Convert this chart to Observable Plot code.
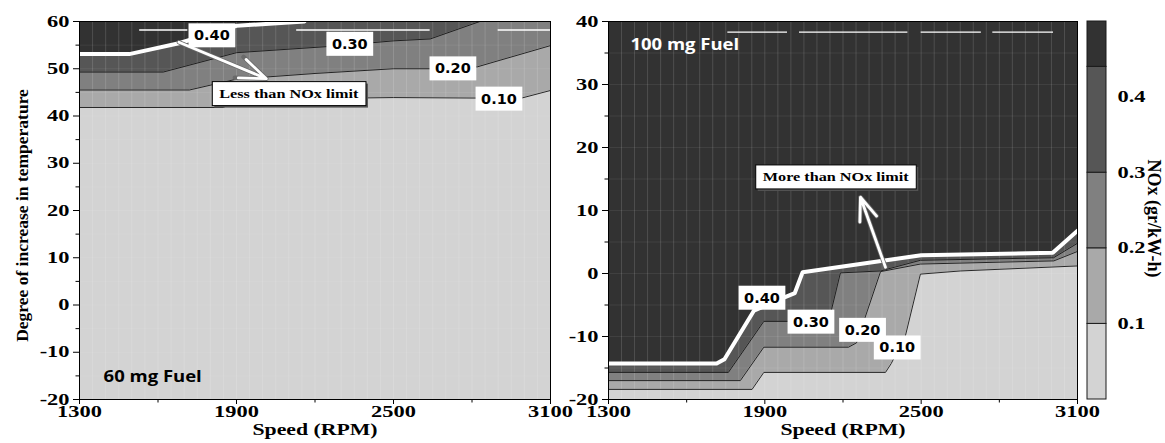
<!DOCTYPE html>
<html>
<head>
<meta charset="utf-8">
<script src="https://cdn.jsdelivr.net/npm/d3@7"></script>
<script src="https://cdn.jsdelivr.net/npm/@observablehq/plot@0.6"></script>
<style>
  body { margin: 0; background: #fff; }
  #chart { position: relative; width: 1165px; height: 443px; overflow: hidden; background: #fff; }
  #chart svg { position: absolute; top: 0; max-width: none; }
</style>
</head>
<body>
<div id="chart"></div>
<script>
// ---------- data ----------
const rpmDomain = [1300, 3100];
const xTicks = [1300, 1900, 2500, 3100];
const xMinorTicks = [1600, 2200, 2800];

const leftTempDomain = [-20, 60];
const leftYTicks = [-20, -10, 0, 10, 20, 30, 40, 50, 60];
const leftYMinor = [-15, -5, 5, 15, 25, 35, 45, 55];
const rightTempDomain = [-20, 40];
const rightYTicks = [-20, -10, 0, 10, 20, 30, 40];
const rightYMinor = [-15, -5, 5, 15, 25, 35];

// 60 mg fuel: NOx contour lines [rpm, temperature rise]
const left010 = [[1300, 41.8], [1850, 41.8], [1905, 43.5], [2500, 43.9], [2800, 43.8], [2990, 43.8], [3100, 45.4]];
const left020 = [[1300, 45.5], [1720, 45.5], [1900, 47.8], [2200, 49.0], [2500, 50.0], [2640, 50.0], [2820, 50.4], [3100, 54.9]];
const left030 = [[1300, 49.3], [1620, 49.3], [1900, 53.4], [2250, 54.7], [2500, 55.9], [2640, 56.3], [2830, 60], [3100, 60]];
const left040 = [[1300, 53.1], [1490, 53.1], [1680, 55.4], [1900, 59.1], [2160, 60]];

// 100 mg fuel
const right010 = [[1300, -18.4], [1851, -18.4], [1896, -15.7], [2363, -15.7], [2385, -14.3], [2440, -9.8], [2497, -0.1], [2650, 0.4], [3100, 1.2]];
const right020 = [[1300, -17.0], [1806, -17.0], [1896, -11.7], [2221, -11.7], [2252, -11.0], [2344, 0.3], [2497, 1.5], [3009, 2.0], [3100, 3.5]];
const right030 = [[1300, -15.7], [1760, -15.7], [1896, -7.6], [2145, -7.6], [2190, 0.1], [2344, 0.4], [2497, 2.1], [3008, 2.5], [3100, 4.8]];
const right040 = [[1300, -14.3], [1715, -14.3], [1745, -13.6], [1858, -5.9], [1980, -3.7], [2015, -3.1], [2045, 0.2], [2500, 2.9], [3005, 3.3], [3100, 6.8]];

const levelTexts = ["0.40", "0.30", "0.20", "0.10"];
const leftLevelLabels = [[1806, 57.0, "0.40"], [2333, 55.2, "0.30"], [2727, 50.0, "0.20"], [2903, 43.6, "0.10"]];
const rightLevelLabels = [[1889, -3.9, "0.40"], [2077, -7.7, "0.30"], [2275, -9.0, "0.20"], [2408, -11.8, "0.10"]];

const noteTexts = ["Less than NOx limit", "More than NOx limit"];
const leftNote = [[2100, 44.7, "Less than NOx limit"]];
const rightNote = [[2172, 15.3, "More than NOx limit"]];
const leftArrow = [[1680, 55.6, 2014, 47.9]];
const rightArrow = [[2363, 1.0, 2267, 12.1]];

const leftFuel = [[1392, -15.1, "60 mg Fuel"]];
const rightFuel = [[1384, 36.3, "100 mg Fuel"]];

// thin white streaks near the top of each map [temp, rpm from, rpm to]
const leftStreaks = [[58.2, 1530, 1714], [58.2, 2130, 2640], [58.2, 2900, 3100]];
const rightStreaks = [[38.3, 1758, 1987], [38.3, 2033, 2449], [38.3, 2500, 2731], [38.3, 2775, 3008]];

// colour bar
const bandColors = ["#d3d3d3", "#a9a9a9", "#808080", "#565656", "#323232"];
const cbarLo = [0, 0.1, 0.2, 0.3, 0.44];
const cbarHi = [0.1, 0.2, 0.3, 0.44, 0.5];
const cbarTicks = [0.1, 0.2, 0.3, 0.4];

const xLabel = "Speed (RPM)";
const yLabel = "Degree of increase in temperature";
const cbarLabel = "NOx (gr/kW-h)";

// ---------- drawing ----------
const serif = "'Liberation Serif', 'Times New Roman', serif";
const baseStyle = {background: "transparent", overflow: "visible", fontFamily: serif,
  fontSize: "16px", fontWeight: "bold", color: "black"};
const px = d => d[0], py = d => d[1];
const hasAxisMarks = typeof Plot.axisX === "function";

function panel(cfg) {
  const [yLo, yHi] = cfg.yDomain;
  const marks = [
    Plot.frame({fill: bandColors[3]}),
    Plot.areaY(cfg.c40, {x: px, y1: py, y2: yHi, fill: bandColors[4]}),
    Plot.areaY(cfg.c30, {x: px, y1: yLo, y2: py, fill: bandColors[2]}),
    Plot.areaY(cfg.c20, {x: px, y1: yLo, y2: py, fill: bandColors[1]}),
    Plot.areaY(cfg.c10, {x: px, y1: yLo, y2: py, fill: bandColors[0]})
  ];
  if (hasAxisMarks) {
    marks.push(
      Plot.gridX({ticks: 40, stroke: "white", strokeOpacity: 0.14, strokeWidth: 1}),
      Plot.gridY({ticks: 16, stroke: "white", strokeOpacity: 0.07, strokeWidth: 1})
    );
  }
  const arrowOpts = {x1: d => d[0], y1: d => d[1], x2: d => d[2], y2: d => d[3], headLength: 15, headAngle: 42};
  marks.push(
    Plot.ruleY(cfg.streaks, {y: d => d[0], x1: d => d[1], x2: d => d[2], stroke: "white", strokeWidth: 1.3}),
    Plot.line(cfg.c10, {x: px, y: py, stroke: "#141414", strokeWidth: 0.9}),
    Plot.line(cfg.c20, {x: px, y: py, stroke: "#141414", strokeWidth: 0.9}),
    Plot.line(cfg.c30, {x: px, y: py, stroke: "#141414", strokeWidth: 0.9}),
    Plot.line(cfg.c40, {x: px, y: py, stroke: "white", strokeWidth: 4, strokeLinejoin: "round"}),
    Plot.arrow(cfg.arrow, {...arrowOpts, stroke: "#6a6a6a", strokeWidth: 4.4}),
    Plot.arrow(cfg.arrow, {...arrowOpts, stroke: "white", strokeWidth: 2.8}),
    Plot.text(cfg.levelLabels, {x: px, y: py, text: d => d[2], fontFamily: "'DejaVu Sans', sans-serif",
      fontWeight: "bold", fontSize: 14.5, fill: "black"}),
    Plot.text(cfg.note, {x: px, y: py, text: d => d[2], fontFamily: serif, fontWeight: "bold",
      fontSize: 13.5, fill: "black"}),
    Plot.text(cfg.fuel, {x: px, y: py, text: d => d[2], textAnchor: "start",
      fontFamily: "'Open Sans', sans-serif", fontWeight: "bold", fontSize: 16.5, fill: cfg.fuelColor}),
    Plot.frame({stroke: "black", strokeWidth: 1})
  );
  if (hasAxisMarks) {
    marks.push(
      Plot.axisX(xTicks, {tickSize: 5, tickPadding: 1, tickFormat: d => String(d), label: null}),
      Plot.axisX(xMinorTicks, {tickSize: 3.5, tickFormat: () => "", label: null}),
      Plot.axisY(cfg.yTicks, {tickSize: 6, tickPadding: 4, tickFormat: d => String(d), label: null}),
      Plot.axisY(cfg.yMinor, {tickSize: 3.5, tickFormat: () => "", label: null})
    );
  }
  marks.push(Plot.text([xLabel], {frameAnchor: "bottom", dy: 35, text: d => d, fontSize: 17,
    textAnchor: "middle"}));
  if (cfg.yLabel) {
    marks.push(Plot.text([cfg.yLabel], {frameAnchor: "left", dx: -57, dy: 5, rotate: -90, text: d => d,
      fontSize: 17.5, textAnchor: "middle", lineAnchor: "middle"}));
  }
  return Plot.plot({
    width: cfg.width, height: 443,
    marginLeft: cfg.mL, marginRight: cfg.mR, marginTop: 21, marginBottom: 44,
    style: baseStyle,
    x: {domain: rpmDomain, ticks: xTicks, tickFormat: d => String(d), label: null},
    y: {domain: cfg.yDomain, ticks: cfg.yTicks, tickFormat: d => String(d), label: null},
    marks
  });
}

const left = panel({
  c10: left010, c20: left020, c30: left030, c40: left040,
  yDomain: leftTempDomain, yTicks: leftYTicks, yMinor: leftYMinor,
  levelLabels: leftLevelLabels, note: leftNote, arrow: leftArrow, fuel: leftFuel, fuelColor: "black",
  streaks: leftStreaks, yLabel, width: 560, mL: 79, mR: 10
});
const right = panel({
  c10: right010, c20: right020, c30: right030, c40: right040,
  yDomain: rightTempDomain, yTicks: rightYTicks, yMinor: rightYMinor,
  levelLabels: rightLevelLabels, note: rightNote, arrow: rightArrow, fuel: rightFuel, fuelColor: "white",
  streaks: rightStreaks, yLabel: null, width: 520, mL: 48, mR: 3
});

const cbarMarks = [
  Plot.rect(bandColors, {x1: 0, x2: 1, y1: (d, i) => cbarLo[i], y2: (d, i) => cbarHi[i], fill: d => d,
    stroke: "#1a1a1a", strokeWidth: 1}),
  Plot.text([cbarLabel], {frameAnchor: "right", dx: 47, dy: 8, rotate: 90, text: d => d, fontSize: 18,
    textAnchor: "middle", lineAnchor: "middle"})
];
if (hasAxisMarks) {
  cbarMarks.push(Plot.axisY(cbarTicks, {anchor: "right", tickSize: 0, tickPadding: 11,
    tickFormat: d => d.toFixed(1), label: null}));
}
const cbar = Plot.plot({
  width: 85, height: 443, marginLeft: 7, marginRight: 59, marginTop: 21, marginBottom: 44,
  style: baseStyle,
  color: {type: "identity"},
  x: {domain: [0, 1], axis: null},
  y: {domain: [0, 0.5], axis: hasAxisMarks ? null : "right", ticks: cbarTicks, tickSize: 0, tickPadding: 11, label: null},
  marks: cbarMarks
});

const chart = document.getElementById("chart");
[[left, 0], [right, 560], [cbar, 1080]].forEach(([svg, x]) => {
  svg.style.left = x + "px";
  chart.appendChild(svg);
});

// ---------- text finishing: the reference text is horizontally stretched ----------
const ns = "http://www.w3.org/2000/svg";
function stretch(t, k) {
  const w = t.getComputedTextLength();
  if (w > 0) {
    t.setAttribute("textLength", (w * k).toFixed(2));
    t.setAttribute("lengthAdjust", "spacingAndGlyphs");
  }
}
function addBox(t, padX, padY, fill, stroke, shadow) {
  const b = t.getBBox();
  const tr = t.getAttribute("transform");
  const mk = (ox, oy, f, s) => {
    const r = document.createElementNS(ns, "rect");
    r.setAttribute("x", b.x - padX + ox);
    r.setAttribute("y", b.y - padY + oy);
    r.setAttribute("width", b.width + 2 * padX);
    r.setAttribute("height", b.height + 2 * padY);
    r.setAttribute("fill", f);
    if (s) { r.setAttribute("stroke", s); r.setAttribute("stroke-width", 1); } else r.setAttribute("stroke", "none");
    if (tr) r.setAttribute("transform", tr);
    t.parentNode.insertBefore(r, t);
  };
  if (shadow) mk(2, 2, "#555", null);
  mk(0, 0, fill, stroke);
}
const stretchMap = new Map([[xLabel, 1.28], ["Less than NOx limit", 1.2], ["More than NOx limit", 1.2],
  ["60 mg Fuel", 1.12], ["100 mg Fuel", 1.12]]);
for (const svg of [left, right, cbar]) {
  svg.querySelectorAll('g[aria-label$="tick label"] text').forEach(t => stretch(t, 1.4));
  svg.querySelectorAll("text").forEach(t => {
    const s = stretchMap.get(t.textContent);
    if (s) stretch(t, s);
  });
  svg.querySelectorAll("text").forEach(t => {
    const s = t.textContent;
    if (levelTexts.includes(s)) addBox(t, 5.5, 4, "white", null, false);
    else if (noteTexts.includes(s)) addBox(t, 7, 4.5, "white", "black", true);
  });
}
</script>
</body>
</html>
